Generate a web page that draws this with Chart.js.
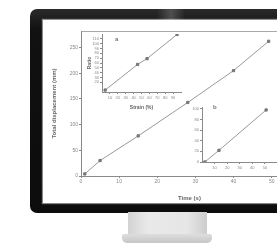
<!DOCTYPE html>
<html><head><meta charset="utf-8">
<script src="https://cdn.jsdelivr.net/npm/chart.js@4.4.0/dist/chart.umd.min.js"></script>
<style>
html,body{margin:0;padding:0;width:277px;height:248px;overflow:hidden;background:#fff;font-family:"Liberation Sans",sans-serif}
#bezel{position:absolute;left:30px;top:9px;width:292px;height:204px;background:linear-gradient(#2a2a2a,#111 10%,#0c0c0c);border-radius:7px}
#glint{position:absolute;left:157px;top:9px;width:28px;height:11px;background:linear-gradient(90deg,rgba(90,90,90,0),rgba(90,90,90,.8),rgba(90,90,90,0))}
#screen{position:absolute;left:43px;top:20px;width:260px;height:183px;background:#fff;box-shadow:0 0 1px 1px rgba(255,255,255,.5)}
#neck{position:absolute;left:128px;top:212px;width:79px;height:24px;background:linear-gradient(90deg,#d2d2d2,#e9e9e9 25%,#e6e6e6 75%,#cdcdcd)}
#base{position:absolute;left:122px;top:234px;width:90px;height:9px;background:linear-gradient(#dedede,#c6c6c6);border-radius:2px 2px 5px 5px}
canvas{position:absolute;filter:blur(0.35px)}
.lbl{position:absolute;font:bold 6px "Liberation Sans",sans-serif;color:#777}
</style></head><body>
<div id="bezel"></div>
<div id="glint"></div>
<div id="screen"></div>
<div id="neck"></div>
<div id="base"></div>
<canvas id="main" width="260" height="180" style="left:43px;top:22px"></canvas>
<canvas id="insA" width="100" height="82" style="left:86px;top:29px"></canvas>
<canvas id="insB" width="110" height="76" style="left:180px;top:102px"></canvas>
<span class="lbl" style="left:115px;top:36px">a</span>
<span class="lbl" style="left:213px;top:104px">b</span>
<script>
// main plot
const mainX = [1, 5, 15, 28, 40, 49.2];
const mainY = [4, 30, 78, 143, 205, 262];
const mainXTicks = [0, 10, 20, 30, 40, 50];
const mainYTicks = [0, 50, 100, 150, 200, 250];
// inset a
const insAX = [4, 45, 57, 95];
const insAY = [4, 57, 69, 119];
const insAXTicks = [10, 20, 30, 40, 50, 60, 70, 80, 90];
const insAYTicks = [20, 30, 40, 50, 60, 70, 80, 90, 100, 110];
// inset b
const insBX = [2.3, 13.5, 51];
const insBY = [0, 22, 98];
const insBXTicks = [10, 20, 30, 40, 50];
const insBYTicks = [0, 20, 40, 60, 80, 100];

const FONT = "Liberation Sans";
const TXT = "#888";
const AX = "#8a8a8a";
Chart.defaults.font.family = FONT;

function pts(xs, ys){ return xs.map((x,i)=>({x:x, y:ys[i]})); }
function setTicks(arr){ return s => { s.ticks = arr.map(v=>({value:v})); }; }

function mk(id, data, o){
  return new Chart(document.getElementById(id), {
    type: 'scatter',
    data: {datasets: [{data: data, showLine: true, borderColor: '#999', borderWidth: 1,
      pointRadius: 1.6, pointBackgroundColor: '#777', pointBorderColor: '#777', pointStyle: 'rect'}]},
    options: {
      responsive: false, animation: false, devicePixelRatio: 1,
      layout: {padding: o.pad},
      plugins: {legend: {display: false}, tooltip: {enabled: false}},
      scales: o.scales
    }
  });
}

function axis(pos, min, max, ticks, fs, size, title, titlePad){
  const a = {
    type: 'linear', position: pos, min: min, max: max,
    afterBuildTicks: setTicks(ticks),
    ticks: {font: {size: fs}, color: TXT, padding: 1, autoSkip: false, maxRotation: 0},
    grid: {drawOnChartArea: false, drawTicks: true, tickLength: 2, color: AX},
    border: {color: AX, width: 1},
    afterFit: s => { if (pos === 'left') s.width = size; else s.height = size; }
  };
  if (title) a.title = {display: true, text: title, color: '#666', font: {size: fs + 1, weight: 'bold'}, padding: titlePad};
  return a;
}

mk('main', pts(mainX, mainY), {
  pad: {top: 0, right: 0, bottom: 0, left: 0},
  scales: {
    x: axis('bottom', 0, 56.9, mainXTicks, 5, 26, 'Time (s)', {top: 3, bottom: 0}),
    xTop: {type: 'linear', position: 'top', min: 0, max: 56.9, ticks: {display: false},
      grid: {drawOnChartArea: false, drawTicks: false}, border: {color: '#aaa', width: 1},
      afterFit: s => { s.height = 9; }},
    y: axis('left', 0, 282, mainYTicks, 5, 38, 'Total displacement (mm)', {top: 8, bottom: 0})
  }
});

mk('insA', pts(insAX, insAY), {
  pad: {top: 2, right: 0, bottom: 0, left: 0},
  scales: {
    x: axis('bottom', 0, 100, insAXTicks, 4, 19, 'Strain (%)', {top: 1, bottom: 0}),
    y: axis('left', 0, 120, insAYTicks, 4, 16, 'Ratio', {top: 1, bottom: 0})
  }
});

mk('insB', pts(insBX, insBY), {
  pad: {top: 3, right: 0, bottom: 0, left: 0},
  scales: {
    x: axis('bottom', 0, 66, insBXTicks, 4, 16),
    y: axis('left', 0, 103.6, insBYTicks, 4, 22)
  }
});
</script>
</body></html>
